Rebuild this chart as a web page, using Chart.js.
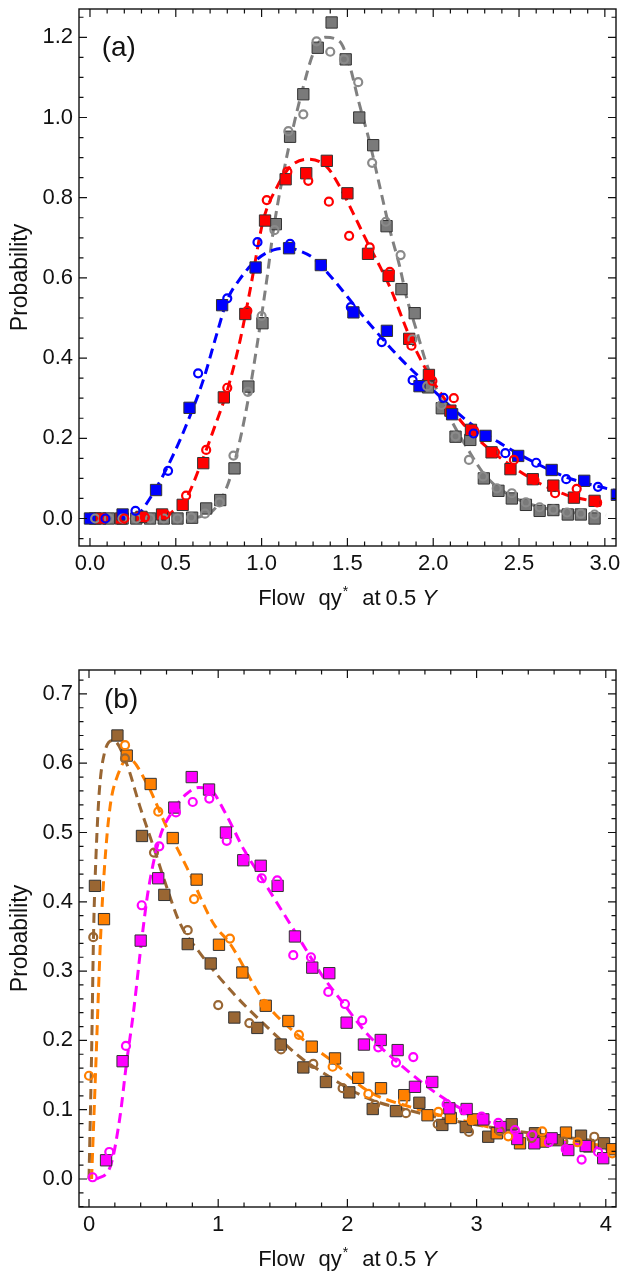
<!DOCTYPE html>
<html>
<head>
<meta charset="utf-8">
<script src="https://cdn.jsdelivr.net/npm/chart.js@4.4.1/dist/chart.umd.min.js"></script>
<style>
  html, body { margin: 0; padding: 0; background: #fff; }
  .panel { position: absolute; left: 0; width: 625px; }
  #wrapA { top: 0; height: 625px; }
  #wrapB { top: 625px; height: 662px; }
</style>
</head>
<body>
<div id="wrapA" class="panel"><canvas id="chartA" width="625" height="625"></canvas></div>
<div id="wrapB" class="panel"><canvas id="chartB" width="625" height="662"></canvas></div>
<script>
// ---- panel (a) data ----
const aBlueSqX = [0.0, 0.19, 0.385, 0.58, 0.77, 0.965, 1.16, 1.345, 1.535, 1.73, 1.92, 2.11, 2.305, 2.495, 2.69, 2.88, 3.07];
const aBlueSqY = [0.0, 0.01, 0.071, 0.276, 0.532, 0.626, 0.674, 0.632, 0.514, 0.468, 0.33, 0.26, 0.206, 0.156, 0.121, 0.094, 0.059];
const aBlueCircX = [0.09, 0.265, 0.455, 0.63, 0.80, 0.976, 1.166, 1.35, 1.52, 1.70, 1.88, 2.06, 2.235, 2.42, 2.60, 2.775, 2.96];
const aBlueCircY = [0.0, 0.019, 0.119, 0.362, 0.549, 0.689, 0.685, 0.63, 0.527, 0.44, 0.345, 0.301, 0.212, 0.163, 0.139, 0.098, 0.079];
const aRedSqX = [0.06, 0.18, 0.30, 0.42, 0.54, 0.66, 0.78, 0.905, 1.02, 1.14, 1.26, 1.38, 1.50, 1.62, 1.74, 1.86, 1.975, 2.10, 2.22, 2.34, 2.45, 2.58, 2.70, 2.82, 2.94];
const aRedSqY = [0.0, 0.0, 0.004, 0.01, 0.034, 0.138, 0.302, 0.51, 0.743, 0.846, 0.861, 0.892, 0.811, 0.66, 0.605, 0.448, 0.358, 0.269, 0.221, 0.165, 0.123, 0.098, 0.082, 0.052, 0.044];
const aRedCircX = [0.08, 0.2, 0.32, 0.44, 0.56, 0.677, 0.80, 0.917, 1.03, 1.15, 1.272, 1.392, 1.51, 1.63, 1.747, 1.873, 1.995, 2.12, 2.24, 2.36, 2.47, 2.59, 2.71, 2.836, 2.955];
const aRedCircY = [0.0, 0.0, 0.003, 0.01, 0.057, 0.171, 0.326, 0.518, 0.794, 0.865, 0.842, 0.79, 0.705, 0.676, 0.615, 0.431, 0.343, 0.30, 0.218, 0.165, 0.146, 0.096, 0.063, 0.074, 0.04];
const aGraySqX = [0.03, 0.11, 0.19, 0.27, 0.35, 0.43, 0.51, 0.595, 0.677, 0.759, 0.842, 0.923, 1.005, 1.083, 1.166, 1.243, 1.327, 1.408, 1.49, 1.569, 1.65, 1.728, 1.815, 1.892, 1.97, 2.05, 2.13, 2.216, 2.295, 2.38, 2.458, 2.54, 2.62, 2.70, 2.784, 2.86, 2.94];
const aGraySqY = [0, 0, 0, 0, 0, 0, 0, 0.002, 0.025, 0.046, 0.125, 0.329, 0.487, 0.734, 0.952, 1.058, 1.174, 1.237, 1.145, 1.0, 0.931, 0.729, 0.572, 0.512, 0.327, 0.275, 0.204, 0.196, 0.1, 0.069, 0.05, 0.034, 0.019, 0.021, 0.01, 0.01, 0.0];
const aGrayCircX = [0.03, 0.11, 0.19, 0.27, 0.35, 0.43, 0.51, 0.59, 0.67, 0.755, 0.836, 0.92, 1.0, 1.075, 1.156, 1.243, 1.32, 1.40, 1.48, 1.563, 1.644, 1.724, 1.81, 1.879, 1.965, 2.048, 2.13, 2.208, 2.29, 2.37, 2.458, 2.54, 2.62, 2.70, 2.78, 2.86, 2.94];
const aGrayCircY = [0, 0, 0, 0, 0, 0, 0, 0.003, 0.012, 0.04, 0.157, 0.316, 0.505, 0.719, 0.966, 1.008, 1.19, 1.164, 1.145, 1.088, 0.887, 0.74, 0.657, 0.447, 0.33, 0.283, 0.205, 0.146, 0.105, 0.075, 0.063, 0.04, 0.028, 0.022, 0.015, 0.012, 0.01];

// dashed fit curves
const aBlueFitX = [0.27, 0.29, 0.39, 0.49, 0.565, 0.66, 0.74, 0.80, 0.87, 0.97, 1.07, 1.16, 1.23, 1.30, 1.42, 1.50, 1.61, 1.80, 2.0, 2.19, 2.39, 2.58, 2.77, 2.97, 3.07];
const aBlueFitY = [0.003, 0.013, 0.079, 0.163, 0.237, 0.345, 0.462, 0.545, 0.595, 0.645, 0.670, 0.674, 0.666, 0.650, 0.595, 0.553, 0.495, 0.403, 0.32, 0.246, 0.188, 0.142, 0.104, 0.079, 0.069];
const aRedFitX = [0.44, 0.47, 0.565, 0.64, 0.72, 0.80, 0.875, 0.933, 1.01, 1.09, 1.166, 1.27, 1.38, 1.456, 1.534, 1.61, 1.69, 1.75, 1.863, 1.96, 2.057, 2.173, 2.309, 2.464, 2.619, 2.774, 2.929, 3.0];
const aRedFitY = [0.003, 0.013, 0.054, 0.129, 0.221, 0.32, 0.445, 0.57, 0.744, 0.827, 0.877, 0.896, 0.877, 0.827, 0.761, 0.694, 0.628, 0.575, 0.453, 0.37, 0.304, 0.237, 0.179, 0.129, 0.088, 0.059, 0.042, 0.03];
const aGrayFitX = [0.6, 0.72, 0.798, 0.856, 0.914, 0.972, 1.03, 1.069, 1.127, 1.185, 1.243, 1.301, 1.369, 1.456, 1.515, 1.563, 1.631, 1.689, 1.747, 1.805, 1.844, 1.902, 1.96, 2.038, 2.115, 2.193, 2.309, 2.464, 2.658, 2.852, 3.007];
const aGrayFitY = [0.0, 0.021, 0.079, 0.163, 0.279, 0.428, 0.595, 0.72, 0.861, 0.977, 1.077, 1.16, 1.2, 1.189, 1.127, 1.044, 0.936, 0.827, 0.72, 0.628, 0.553, 0.47, 0.387, 0.304, 0.237, 0.179, 0.104, 0.054, 0.025, 0.013, 0.009];

// ---- panel (b) data ----
const bBrownSqX = [0.046, 0.22, 0.41, 0.583, 0.764, 0.942, 1.125, 1.303, 1.484, 1.659, 1.834, 2.015, 2.196, 2.376, 2.557, 2.735, 2.916, 3.09, 3.272, 3.452, 3.628, 3.808, 3.986];
const bBrownSqY = [0.423, 0.64, 0.495, 0.41, 0.339, 0.311, 0.233, 0.218, 0.194, 0.161, 0.14, 0.125, 0.101, 0.098, 0.11, 0.078, 0.075, 0.061, 0.079, 0.066, 0.056, 0.0625, 0.0515];
const bBrownCircX = [0.033, 0.279, 0.503, 0.764, 1.0, 1.241, 1.486, 1.736, 1.963, 2.214, 2.453, 2.699, 2.941, 3.18, 3.426, 3.671, 3.911];
const bBrownCircY = [0.349, 0.607, 0.471, 0.359, 0.251, 0.225, 0.187, 0.166, 0.131, 0.107, 0.095, 0.079, 0.068, 0.069, 0.059, 0.054, 0.061];
const bOrangeSqX = [0.116, 0.292, 0.477, 0.648, 0.833, 1.006, 1.187, 1.368, 1.543, 1.724, 1.904, 2.084, 2.26, 2.44, 2.62, 2.80, 2.975, 3.156, 3.336, 3.516, 3.692, 3.872, 4.05];
const bOrangeSqY = [0.375, 0.611, 0.57, 0.492, 0.432, 0.338, 0.298, 0.25, 0.228, 0.191, 0.174, 0.146, 0.131, 0.121, 0.092, 0.088, 0.086, 0.066, 0.0515, 0.054, 0.067, 0.047, 0.043];
const bOrangeCircX = [0.0, 0.279, 0.536, 0.813, 1.091, 1.357, 1.625, 1.886, 2.162, 2.43, 2.704, 2.962, 3.245, 3.508, 3.782, 4.05];
const bOrangeCircY = [0.149, 0.626, 0.53, 0.404, 0.347, 0.2525, 0.208, 0.162, 0.1227, 0.112, 0.097, 0.085, 0.0616, 0.0688, 0.053, 0.037];
const bMagSqX = [0.132, 0.26, 0.40, 0.536, 0.66, 0.795, 0.929, 1.06, 1.194, 1.329, 1.46, 1.594, 1.728, 1.86, 1.994, 2.128, 2.258, 2.389, 2.523, 2.657, 2.789, 2.923, 3.052, 3.185, 3.315, 3.447, 3.581, 3.71, 3.844, 3.98];
const bMagSqY = [0.027, 0.17, 0.344, 0.434, 0.536, 0.58, 0.562, 0.5, 0.46, 0.452, 0.423, 0.35, 0.305, 0.297, 0.2256, 0.194, 0.2006, 0.186, 0.133, 0.14, 0.102, 0.101, 0.086, 0.075, 0.0577, 0.0515, 0.0587, 0.0418, 0.0476, 0.03];
const bMagCircX = [0.028, 0.157, 0.286, 0.408, 0.544, 0.673, 0.803, 0.931, 1.066, 1.202, 1.337, 1.457, 1.581, 1.718, 1.852, 1.981, 2.115, 2.239, 2.376, 2.51, 2.64, 2.768, 2.902, 3.039, 3.168, 3.297, 3.431, 3.56, 3.69, 3.813, 3.94];
const bMagCircY = [0.0025, 0.039, 0.192, 0.395, 0.48, 0.529, 0.544, 0.549, 0.488, 0.462, 0.434, 0.431, 0.323, 0.32, 0.27, 0.2525, 0.229, 0.19, 0.168, 0.176, 0.14, 0.108, 0.0995, 0.09, 0.081, 0.0707, 0.0635, 0.053, 0.043, 0.028, 0.039];

const bBrownFitX = [0.0, 0.02, 0.036, 0.055, 0.08, 0.12, 0.188, 0.29, 0.395, 0.498, 0.6, 0.704, 0.859, 1.117, 1.375, 1.633, 1.74, 2.15, 2.485, 2.8, 3.2, 3.6, 4.08];
const bBrownFitY = [0.0, 0.18, 0.36, 0.47, 0.56, 0.615, 0.633, 0.6, 0.537, 0.48, 0.422, 0.369, 0.326, 0.268, 0.22, 0.176, 0.162, 0.117, 0.0986, 0.085, 0.072, 0.062, 0.052];
const bOrangeFitX = [0.02, 0.05, 0.09, 0.12, 0.163, 0.227, 0.304, 0.447, 0.6, 0.756, 0.962, 1.09, 1.35, 1.633, 1.89, 2.15, 2.485, 2.92, 3.44, 4.08];
const bOrangeFitY = [0.0, 0.15, 0.35, 0.45, 0.537, 0.585, 0.607, 0.571, 0.508, 0.45, 0.369, 0.34, 0.258, 0.205, 0.169, 0.128, 0.104, 0.083, 0.061, 0.046];
const bMagFitX = [0.06, 0.163, 0.24, 0.29, 0.343, 0.408, 0.459, 0.55, 0.652, 0.75, 0.85, 0.95, 1.05, 1.2, 1.35, 1.5, 1.65, 1.8, 1.95, 2.15, 2.41, 2.717, 3.0, 3.31, 3.645, 4.08];
const bMagFitY = [0.0, 0.017, 0.09, 0.167, 0.239, 0.345, 0.417, 0.494, 0.532, 0.555, 0.565, 0.56, 0.53, 0.475, 0.43, 0.385, 0.34, 0.295, 0.258, 0.21, 0.165, 0.12, 0.09, 0.068, 0.054, 0.041];

const FONT = '"Liberation Sans", Arial, Helvetica, sans-serif';

function pts(xs, ys) {
  return xs.map((x, i) => ({ x: x, y: ys[i] }));
}

function squares(xs, ys, color, order) {
  return {
    data: pts(xs, ys),
    pointStyle: "rect",
    pointRadius: 8,
    pointBackgroundColor: color,
    pointBorderColor: "#333",
    pointBorderWidth: 1,
    showLine: false,
    order: order,
  };
}

function circles(xs, ys, color, order) {
  return {
    data: pts(xs, ys),
    pointStyle: "circle",
    pointRadius: 4,
    pointBackgroundColor: "rgba(0,0,0,0)",
    pointBorderColor: color,
    pointBorderWidth: 2.2,
    showLine: false,
    order: order,
  };
}

function fit(xs, ys, color, order) {
  return {
    data: pts(xs, ys),
    showLine: true,
    pointRadius: 0,
    borderColor: color,
    borderWidth: 3,
    borderDash: [10, 6],
    cubicInterpolationMode: "monotone",
    fill: false,
    order: order,
  };
}

// frame with inward major/minor ticks on all four sides, plus titles
const framePlugin = {
  id: "frame",
  afterDraw(chart, args, o) {
    const ctx = chart.ctx;
    const a = chart.chartArea;
    const xs = chart.scales.x;
    const ys = chart.scales.y;
    ctx.save();
    ctx.strokeStyle = "#111";
    ctx.lineWidth = 1.4;
    ctx.strokeRect(a.left, a.top, a.right - a.left, a.bottom - a.top);

    ctx.lineWidth = 1.2;
    const isMajor = (v, major) => Math.abs(v / major - Math.round(v / major)) < 1e-6;
    ctx.beginPath();
    for (let v = Math.ceil(xs.min / o.xMinor) * o.xMinor; v <= xs.max; v += o.xMinor) {
      const p = xs.getPixelForValue(v);
      const len = isMajor(v, o.xMajor) ? 8 : 4.5;
      ctx.moveTo(p, a.bottom); ctx.lineTo(p, a.bottom - len);
      ctx.moveTo(p, a.top); ctx.lineTo(p, a.top + len);
    }
    for (let v = Math.ceil(ys.min / o.yMinor) * o.yMinor; v <= ys.max; v += o.yMinor) {
      const p = ys.getPixelForValue(v);
      const len = isMajor(v, o.yMajor) ? 8 : 4.5;
      ctx.moveTo(a.left, p); ctx.lineTo(a.left + len, p);
      ctx.moveTo(a.right, p); ctx.lineTo(a.right - len, p);
    }
    ctx.stroke();

    ctx.fillStyle = "#111";
    // panel label
    ctx.font = "28px " + FONT;
    ctx.textBaseline = "middle";
    ctx.textAlign = "left";
    ctx.fillText(o.label, a.left + o.labelDx, a.top + o.labelDy);

    // y title
    ctx.save();
    ctx.font = "23px " + FONT;
    ctx.textBaseline = "alphabetic";
    ctx.textAlign = "center";
    ctx.translate(27, (a.top + a.bottom) / 2);
    ctx.rotate(-Math.PI / 2);
    ctx.fillText("Probability", 0, 0);
    ctx.restore();

    // x title: Flow qy* at 0.5 Y
    const parts = [
      { t: "Flow", f: "22px " + FONT, gap: 14, dy: 0 },
      { t: "qy", f: "22px " + FONT, gap: 1, dy: 0 },
      { t: "*", f: "14px " + FONT, gap: 14, dy: -9 },
      { t: "at", f: "22px " + FONT, gap: 5, dy: 0 },
      { t: "0.5", f: "22px " + FONT, gap: 6, dy: 0 },
      { t: "Y", f: "italic 22px " + FONT, gap: 0, dy: 0 },
    ];
    ctx.textBaseline = "alphabetic";
    ctx.textAlign = "left";
    let total = 0;
    parts.forEach((p) => { ctx.font = p.f; p.w = ctx.measureText(p.t).width; total += p.w + p.gap; });
    let x = (a.left + a.right) / 2 - total / 2;
    const base = a.bottom + 59;
    parts.forEach((p) => {
      ctx.font = p.f;
      ctx.fillText(p.t, x, base + p.dy);
      x += p.w + p.gap;
    });
    ctx.restore();
  },
};

// drop the automatic label padding so the plot box sits where the layout puts it
function noPad(s) {
  s.paddingTop = 0;
  s.paddingBottom = 0;
  s.paddingLeft = 0;
  s.paddingRight = 0;
}

function makeChart(id, datasets, xr, yr, xStep, yStep, xDigits, frameOpts, padTop, xHeight) {
  return new Chart(document.getElementById(id), {
    type: "scatter",
    data: { datasets: datasets },
    options: {
      responsive: false,
      animation: false,
      devicePixelRatio: 1,
      layout: { padding: { top: padTop, right: 9, left: 0, bottom: 0 } },
      plugins: { legend: { display: false }, tooltip: { enabled: false }, frame: frameOpts },
      scales: {
        x: {
          type: "linear",
          min: xr[0],
          max: xr[1],
          grid: { display: false, drawTicks: false },
          border: { display: false },
          ticks: {
            stepSize: xStep,
            includeBounds: false,
            autoSkip: false,
            maxRotation: 0,
            padding: 5,
            color: "#111",
            font: { family: FONT, size: 22 },
            callback: (v) => v.toFixed(xDigits),
          },
          afterFit: (s) => { s.height = xHeight; noPad(s); },
        },
        y: {
          type: "linear",
          min: yr[0],
          max: yr[1],
          grid: { display: false, drawTicks: false },
          border: { display: false },
          ticks: {
            stepSize: yStep,
            includeBounds: false,
            autoSkip: false,
            padding: 6,
            color: "#111",
            font: { family: FONT, size: 22 },
            callback: (v) => v.toFixed(1),
          },
          afterFit: (s) => { s.width = 79; noPad(s); },
        },
      },
    },
    plugins: [framePlugin],
  });
}

makeChart(
  "chartA",
  [
    fit(aGrayFitX, aGrayFitY, "#808080", 12),
    fit(aRedFitX, aRedFitY, "#ff0000", 11),
    fit(aBlueFitX, aBlueFitY, "#0000ff", 10),
    squares(aGraySqX, aGraySqY, "#7a7a7a", 8),
    squares(aRedSqX, aRedSqY, "#ff0000", 7),
    squares(aBlueSqX, aBlueSqY, "#0000ff", 6),
    circles(aGrayCircX, aGrayCircY, "#8a8a8a", 5),
    circles(aRedCircX, aRedCircY, "#ff0000", 4),
    circles(aBlueCircX, aBlueCircY, "#0000ff", 3),
  ],
  [-0.064, 3.065], [-0.0686, 1.2706], 0.5, 0.2, 1,
  { xMajor: 0.5, xMinor: 0.1, yMajor: 0.2, yMinor: 0.05, label: "(a)", labelDx: 22.7, labelDy: 39 },
  9, 79
);

makeChart(
  "chartB",
  [
    fit(bBrownFitX, bBrownFitY, "#996633", 12),
    fit(bOrangeFitX, bOrangeFitY, "#ff8000", 11),
    fit(bMagFitX, bMagFitY, "#ff00ff", 10),
    squares(bBrownSqX, bBrownSqY, "#996633", 8),
    squares(bOrangeSqX, bOrangeSqY, "#ff8000", 7),
    squares(bMagSqX, bMagSqY, "#ff00ff", 6),
    circles(bBrownCircX, bBrownCircY, "#996633", 5),
    circles(bOrangeCircX, bOrangeCircY, "#ff8000", 4),
    circles(bMagCircX, bMagCircY, "#ff00ff", 3),
  ],
  [-0.0774, 4.079], [-0.0404, 0.7345], 1, 0.1, 0,
  { xMajor: 1, xMinor: 0.2, yMajor: 0.1, yMinor: 0.02, label: "(b)", labelDx: 25, labelDy: 30 },
  45, 80
);
</script>
</body>
</html>
